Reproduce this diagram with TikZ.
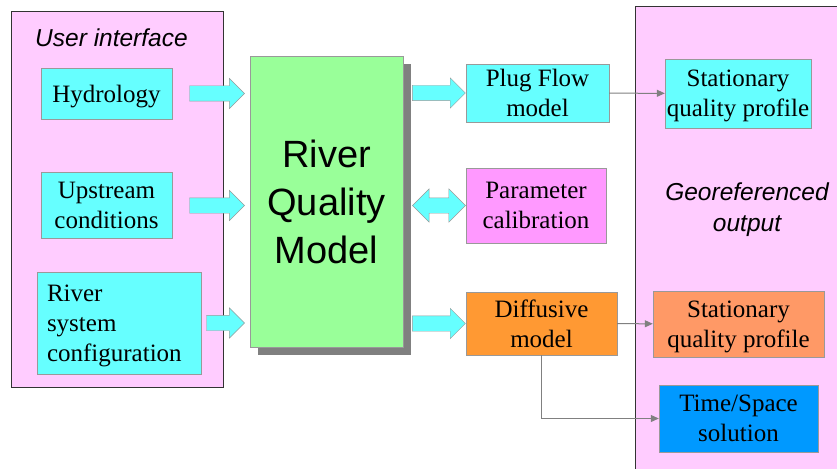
\documentclass[tikz,border=0pt]{standalone}
\usepackage{fontspec}
\setmainfont{Liberation Serif}
\setsansfont{Liberation Sans}
\usepackage{tikz}
\usetikzlibrary{arrows.meta, positioning, shapes.arrows, shadows}

\definecolor{panelpink}{HTML}{FFCCFF}
\definecolor{boxcyan}{HTML}{66FFFF}
\definecolor{modelgreen}{HTML}{99FF99}
\definecolor{calibpink}{HTML}{FF99FF}
\definecolor{difforange}{HTML}{FF9933}
\definecolor{profileorange}{HTML}{FF9966}
\definecolor{solblue}{HTML}{0099FF}
\definecolor{edgegray}{HTML}{999999}
\definecolor{linkgray}{HTML}{808080}

\begin{document}
\begin{tikzpicture}[x=1pt, y=-1pt,
    panel/.style={draw=black!80, fill=panelpink, inner sep=0pt},
    box/.style={draw=edgegray, fill=boxcyan, inner sep=0pt, align=center, text depth=0pt, font=\fontsize{25}{30}\selectfont},
    fatarrow/.style={single arrow, draw=edgegray, fill=boxcyan, inner xsep=0pt, inner ysep=7.5pt, single arrow head extend=7.5pt},
    link/.style={draw=linkgray, line width=1pt, -{Triangle[length=8pt, width=7pt]}},
    paneltitle/.style={font=\sffamily\itshape\fontsize{24.5}{31}\selectfont, align=center}]
    \useasboundingbox (0,0) rectangle (837,468);

    % Panels
    \node[panel, minimum width=212pt, minimum height=376pt] (ui) at (117,199) {};
    \node[paneltitle] (uititle) at (111.5,38) {User interface};
    \node[panel, minimum width=205pt, minimum height=465pt] (out) at (737.5,238.5) {};
    \node[paneltitle] (outtitle) at (747,210) {Georeferenced\\output};

    % Inputs
    \node[box, minimum width=131pt, minimum height=51pt] (hydro) at (106.5,93.5) {Hydrology};
    \node[box, minimum width=131pt, minimum height=66pt] (upstream) at (106.5,205.5) {Upstream\\conditions};
    \node[box, minimum width=164pt, minimum height=102pt, text width=144pt, align=left, text depth=60pt] (config) at (119,323) {River\\system\\configuration};

    % Model
    \node[draw=edgegray, fill=modelgreen, minimum width=153pt, minimum height=291pt, align=center,
          font=\sffamily\fontsize{38}{48}\selectfont,
          drop shadow={shadow xshift=8pt, shadow yshift=-8pt, fill=linkgray, opacity=1}]
          (rqm) at (326.5,201.5) {River\\Quality\\Model};

    % Solvers
    \node[box, minimum width=143pt, minimum height=58pt] (plug) at (537.5,93) {Plug Flow\\model};
    \node[box, fill=calibpink, minimum width=140pt, minimum height=75pt] (param) at (536,205.5) {Parameter\\calibration};
    \node[box, fill=difforange, minimum width=151pt, minimum height=63pt] (diff) at (541.5,323.5) {Diffusive\\model};

    % Outputs
    \node[box, minimum width=146pt, minimum height=69pt] (stat1) at (738,93.5) {Stationary\\quality profile};
    \node[box, fill=profileorange, minimum width=171pt, minimum height=66pt] (stat2) at (738.5,324) {Stationary\\quality profile};
    \node[box, fill=solblue, minimum width=159pt, minimum height=67pt] (tsol) at (738.5,418.5) {Time/Space\\solution};

    % Block arrows
    \node[fatarrow, minimum height=55pt, anchor=tip] (ahydro) at ([xshift=-5pt]rqm.west |- hydro) {};
    \node[fatarrow, minimum height=55pt, anchor=tip] (aupstream) at ([xshift=-5pt]rqm.west |- upstream) {};
    \node[fatarrow, minimum height=38pt, anchor=tip] (aconfig) at ([xshift=-5pt]rqm.west |- config) {};
    \node[fatarrow, minimum height=53pt, anchor=tail] (aplug) at ([xshift=9pt]rqm.east |- plug) {};
    \node[fatarrow, double arrow, double arrow head extend=9pt, minimum height=53pt, anchor=west] (aparam) at ([xshift=9pt]rqm.east |- param) {};
    \node[fatarrow, minimum height=53pt, anchor=tail] (adiff) at ([xshift=9pt]rqm.east |- diff) {};

    % Results
    \draw[link] (plug) -- (stat1);
    \draw[link] (diff) -- (stat2);
    \draw[link] (diff.south) |- (tsol.west);
\end{tikzpicture}
\end{document}
